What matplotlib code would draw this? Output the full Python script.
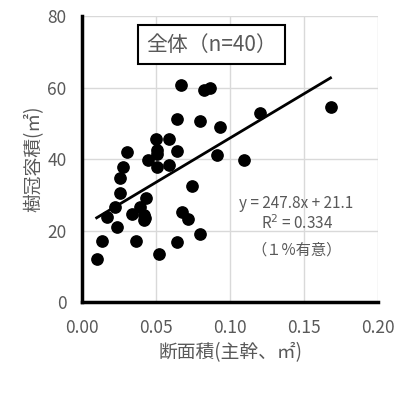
import matplotlib.pyplot as plt
import numpy as np

plt.rcParams['font.family'] = ['Noto Sans CJK JP', 'DejaVu Sans']

# 断面積(主幹) と 樹冠容積
area = [0.0099, 0.0133, 0.0167, 0.0235, 0.0225, 0.0257, 0.0257, 0.0274, 0.0302, 0.0341,
        0.0365, 0.0392, 0.0434, 0.0422, 0.0422, 0.0448, 0.0500, 0.0507, 0.0509, 0.0522,
        0.0590, 0.0590, 0.0644, 0.0644, 0.0644, 0.0666, 0.0679, 0.0718, 0.0740, 0.0799,
        0.0799, 0.0824, 0.0868, 0.0914, 0.0934, 0.1097, 0.1203, 0.1679, 0.0425, 0.0510]
crown = [12.0, 17.2, 23.9, 21.1, 26.6, 30.6, 34.7, 37.8, 42.1, 24.6,
         17.0, 26.6, 29.0, 24.3, 22.9, 39.6, 45.6, 42.5, 37.8, 13.3,
         45.6, 38.2, 51.1, 42.2, 16.7, 60.7, 25.2, 23.1, 32.5, 50.7,
         18.9, 59.3, 59.8, 41.0, 49.1, 39.6, 52.8, 54.7, 23.5, 41.5]

slope = 247.8
intercept = 21.1
xticks = [0.00, 0.05, 0.10, 0.15, 0.20]
yticks = [0, 20, 40, 60, 80]

gray = '#595959'

fig = plt.figure(figsize=(4.10, 3.93), dpi=100)
ax = fig.add_axes([0.2, 0.2316, 0.722, 0.7274])

ax.scatter(area, crown, s=66, c='black', zorder=3)

# trend line over data range
xl = np.array([min(area), max(area)])
ax.plot(xl, slope * xl + intercept, color='black', lw=2, zorder=2)

ax.set_xlim(0, 0.20)
ax.set_ylim(0, 80)
ax.set_xticks(xticks)
ax.set_xticklabels(['%.2f' % t for t in xticks])
ax.set_yticks(yticks)
ax.grid(True, color='#d9d9d9', lw=1)
ax.set_axisbelow(True)
ax.tick_params(length=0, labelsize=12.5, labelcolor=gray)
ax.tick_params(axis='x', pad=12)
ax.tick_params(axis='y', pad=11)

for s in ['top', 'right']:
    ax.spines[s].set_visible(False)
for s in ['left', 'bottom']:
    ax.spines[s].set_linewidth(2.5)
    ax.spines[s].set_color('black')

ax.set_xlabel('断面積(主幹、㎡)', fontsize=13.5, color=gray, labelpad=4)
ax.set_ylabel('樹冠容積(㎡)', fontsize=13.5, color=gray, labelpad=2)

ax.text(0.0435, 72, '全体（n=40）', fontsize=15, color=gray, va='center', ha='left',
        bbox=dict(boxstyle='square,pad=0.4', fc='white', ec='black', lw=1.5))

ax.text(0.145, 27.5, 'y = 247.8x + 21.1', fontsize=11, color=gray, ha='center', va='center')
ax.text(0.145, 22, 'R$^2$ = 0.334', fontsize=11, color=gray, ha='center', va='center')
ax.text(0.145, 14.5, '（１%有意）', fontsize=11, color=gray, ha='center', va='center')

fig.savefig('out.png', dpi=100)
